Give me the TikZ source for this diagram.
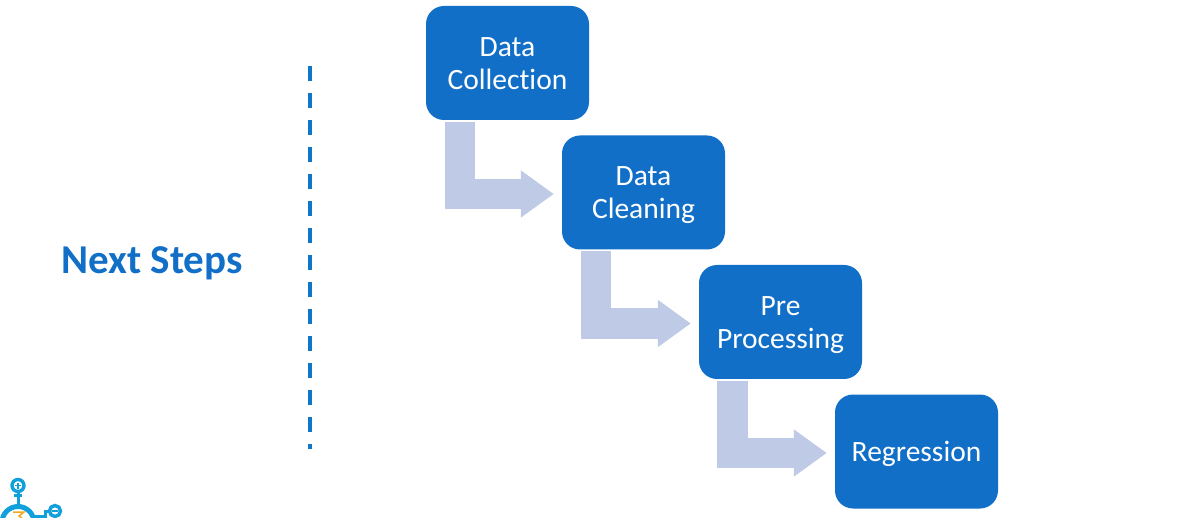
\documentclass[tikz,border=0pt]{standalone}
\usepackage{fontspec}
\setmainfont[Ligatures=NoCommon]{Carlito}
\usetikzlibrary{arrows.meta}
\definecolor{boxblue}{HTML}{116FC8}
\definecolor{flowblue}{HTML}{BFCAE6}
\definecolor{rulerblue}{HTML}{0F77C8}
\definecolor{logoblue}{HTML}{12A0DC}
\definecolor{logoorange}{HTML}{F5A623}
\newcommand\topfix{\rule{0pt}{26pt}}
\newcommand\botfix{\rule[-6pt]{0pt}{6pt}}
\tikzset{
  x=1pt,y=-1pt,
  stepbox/.style={draw=none,fill=boxblue,rounded corners=18pt,minimum width=163pt,minimum height=114pt,
    inner sep=0pt,text=white,align=center,font=\fontsize{29.5}{33}\selectfont},
  flow/.style={draw=flowblue,line width=30.5pt,line join=miter,shorten <=1.5pt,shorten >=8pt,
    -{Triangle[length=33pt,width=45pt,color=flowblue]}},
  rulerline/.style={draw=rulerblue,line width=3.6pt,dash pattern=on 15pt off 12pt},
  heading/.style={text=boxblue,inner sep=0pt,font=\fontsize{41}{44}\selectfont\bfseries},
  logoline/.style={draw=logoblue,line width=3.4pt},
}
\begin{document}
\begin{tikzpicture}
\useasboundingbox (0,0) rectangle (1183,518);
\fill[white] (0,0) rectangle (1183,518);
\node[stepbox] (a) at (507.5,63) {\topfix Data\\Collection\botfix};
\node[stepbox] (b) at (643.5,192.5) {\topfix Data\\Cleaning\botfix};
\node[stepbox] (c) at (780.5,322) {\topfix Pre\\Processing\botfix};
\node[stepbox] (d) at (916.5,451.5) {\topfix Regression\botfix};
\draw[flow] ([xshift=-47.5pt]a.south) |- ([yshift=-1.5pt]b.west);
\draw[flow] ([xshift=-47.5pt]b.south) |- ([yshift=-1.5pt]c.west);
\draw[flow] ([xshift=-48pt]c.south) |- ([yshift=-1.5pt]d.west);
\node[heading] (title) at (152,263) {Next Steps};
\coordinate (rtop) at (310,66);
\coordinate (rbot) at (310,449);
\draw[rulerline] (rtop) -- (rbot);
\begin{scope}
\clip (0,0) rectangle (1183,518);
\draw[logoline,line width=5pt] (18,522.5) circle (16);
\draw[logoline] (18,485.5) circle (6);
\draw[logoline,line width=1.8pt] (15,485.5) -- (21,485.5) (18,482.5) -- (18,488.5);
\draw[logoline,line width=3pt] (18,491) -- (18,505) (14,495) -- (22,495);
\draw[logoline,line width=3pt] (34,516) -- (45,516) -- (45,511) -- (50,511);
\draw[logoline] (55,511) circle (5.5);
\draw[logoline,line width=1.8pt] (52,511) -- (58,511);
\draw[draw=logoorange,line width=1.5pt] (13,512) -- (24,512) -- (19,516) -- (22,518);
\end{scope}
\end{tikzpicture}
\end{document}
